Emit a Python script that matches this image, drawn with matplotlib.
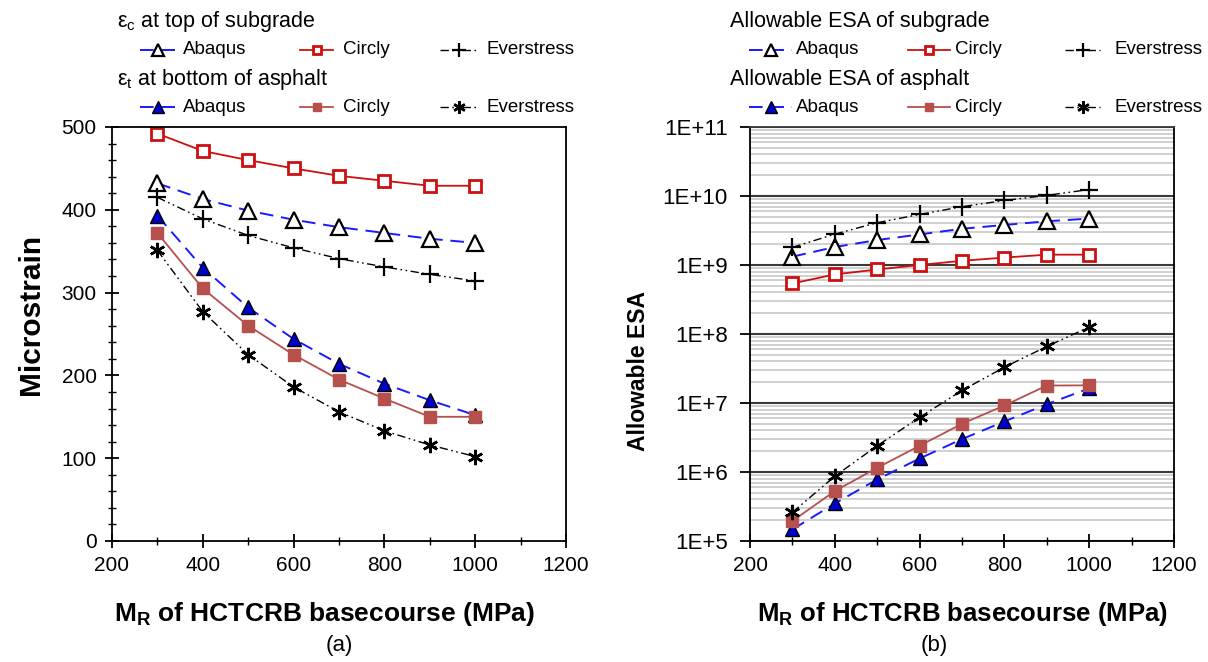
import numpy as np
import matplotlib
matplotlib.use("Agg")
import matplotlib.pyplot as plt
from matplotlib.lines import Line2D
from matplotlib.ticker import MultipleLocator, LogLocator, FuncFormatter, NullFormatter

plt.rcParams['font.family'] = ['Liberation Sans', 'DejaVu Sans']
plt.rcParams['mathtext.fontset'] = 'custom'
plt.rcParams['mathtext.rm'] = 'Liberation Sans'
plt.rcParams['mathtext.bf'] = 'Liberation Sans:bold'
plt.rcParams['mathtext.it'] = 'Liberation Sans:italic'

# data
mr = [300, 400, 500, 600, 700, 800, 900, 1000]

# (a) microstrain
sub_abaqus = [432, 413, 399, 388, 379, 372, 365, 360]
sub_circly = [492, 471, 460, 450, 441, 435, 429, 429]
sub_ever = [415, 389, 369, 354, 341, 331, 322, 314]
asp_abaqus = [393, 330, 282, 244, 214, 190, 170, 152]
asp_circly = [372, 305, 260, 225, 195, 172, 150, 150]
asp_ever = [351, 277, 225, 186, 156, 133, 116, 102]

# (b) allowable ESA
esa_sub_abaqus = [1.32e9, 1.82e9, 2.3e9, 2.77e9, 3.35e9, 3.8e9, 4.3e9, 4.7e9]
esa_sub_circly = [5.4e8, 7.3e8, 8.6e8, 1.0e9, 1.15e9, 1.28e9, 1.41e9, 1.41e9]
esa_sub_ever = [1.8e9, 2.8e9, 4.1e9, 5.4e9, 7.0e9, 8.6e9, 1.02e10, 1.24e10]
esa_asp_abaqus = [1.47e5, 3.5e5, 7.8e5, 1.57e6, 3.0e6, 5.4e6, 9.6e6, 1.63e7]
esa_asp_circly = [1.95e5, 5.3e5, 1.15e6, 2.4e6, 5.0e6, 9.2e6, 1.79e7, 1.8e7]
esa_asp_ever = [2.6e5, 8.7e5, 2.4e6, 6.2e6, 1.52e7, 3.3e7, 6.6e7, 1.26e8]

labels = ['Abaqus', 'Circly', 'Everstress']

W, H = 1208, 662
dashed = (0, (7, 4))
dashdotdot = (0, (6, 2.5, 1.2, 2.5, 1.2, 2.5))
st_sub = [
    dict(color='#1a1aff', ls=dashed, lw=1.4, marker='^', ms=11, mfc='white', mec='black', mew=1.6),
    dict(color='#cc1010', ls='-', lw=1.3, marker='s', ms=8, mfc='white', mec='#cc1010', mew=2.0),
    dict(color='black', ls=dashdotdot, lw=1.0, marker='+', ms=13, mfc='none', mec='black', mew=1.6),
]
st_asp = [
    dict(color='#1a1aff', ls=dashed, lw=1.4, marker='^', ms=10, mfc='#0000cc', mec='black', mew=1.0),
    dict(color='#b5504d', ls='-', lw=1.3, marker='s', ms=8, mfc='#b5504d', mec='#b5504d', mew=1.0),
    dict(color='black', ls=dashdotdot, lw=1.0, marker=(6, 2, 0), ms=11, mfc='none', mec='black', mew=1.8),
]

fig = plt.figure(figsize=(12.08, 6.62), dpi=100)
ax1 = fig.add_axes([0.0927, 0.1828, 0.3758, 0.6254])
ax2 = fig.add_axes([0.6209, 0.1828, 0.3510, 0.6254])

xlabel = r'M$_\mathbf{R}$ of HCTCRB basecourse (MPa)'


def legend_block(title, tx, ty, styles, hx, lx, y):
    # legend drawn by hand, positions in pixels from top-left
    fig.text(tx / W, 1 - ty / H, title, fontsize=15.5, va='center', ha='left')
    for st, (x0, x1), xl, lab in zip(styles, hx, lx, labels):
        s = dict(st)
        s['ms'] = s['ms'] * 0.8
        xm = (x0 + x1) / 2
        ln = Line2D([x0 / W, xm / W, x1 / W], [1 - y / H] * 3, transform=fig.transFigure,
                    markevery=[1], **s)
        fig.add_artist(ln)
        fig.text(xl / W, 1 - y / H, lab, fontsize=13.5, va='center', ha='left')


# panel (a)
for ys, st in zip([sub_abaqus, sub_circly, sub_ever], st_sub):
    ax1.plot(mr, ys, **st)
for ys, st in zip([asp_abaqus, asp_circly, asp_ever], st_asp):
    ax1.plot(mr, ys, **st)

ax1.set_xlim(200, 1200)
ax1.set_ylim(0, 500)
ax1.xaxis.set_major_locator(MultipleLocator(200))
ax1.xaxis.set_minor_locator(MultipleLocator(100))
ax1.yaxis.set_major_locator(MultipleLocator(100))
ax1.yaxis.set_minor_locator(MultipleLocator(20))
ax1.tick_params(which='major', direction='inout', length=10, width=1.3, labelsize=15, pad=6)
ax1.tick_params(which='minor', direction='inout', length=6, width=1.0)
ax1.set_ylabel('Microstrain', fontsize=21.5, fontweight='bold', labelpad=12)
ax1.yaxis.label.set_y(0.546)
ax1.set_xlabel(xlabel, fontsize=19, fontweight='bold', labelpad=18)
ax1.xaxis.label.set_x(0.467)
for sp in ax1.spines.values():
    sp.set_linewidth(1.3)

lx_a = [183, 343, 486]
hx_a = [(140, 176), (300, 333), (440, 478)]
legend_block(r'ε$_\mathrm{c}$ at top of subgrade', 117, 22, st_sub, hx_a, lx_a, 50)
legend_block(r'ε$_\mathrm{t}$ at bottom of asphalt', 117, 79, st_asp, hx_a, lx_a, 107)
fig.text(339 / W, 1 - 645 / H, '(a)', ha='center', va='center', fontsize=16)

# panel (b)
for ys, st in zip([esa_sub_abaqus, esa_sub_circly, esa_sub_ever], st_sub):
    ax2.plot(mr, ys, zorder=3, **st)
for ys, st in zip([esa_asp_abaqus, esa_asp_circly, esa_asp_ever], st_asp):
    ax2.plot(mr, ys, zorder=3, **st)

ax2.set_yscale('log')
ax2.set_xlim(200, 1200)
ax2.set_ylim(1e5, 1e11)
ax2.xaxis.set_major_locator(MultipleLocator(200))
ax2.xaxis.set_minor_locator(MultipleLocator(100))
ax2.yaxis.set_major_locator(LogLocator(base=10, numticks=10))
ax2.yaxis.set_minor_locator(LogLocator(base=10, subs=np.arange(2, 10), numticks=20))
ax2.yaxis.set_major_formatter(FuncFormatter(lambda v, p: '1E+%d' % round(np.log10(v))))
ax2.yaxis.set_minor_formatter(NullFormatter())
ax2.grid(True, which='major', axis='y', color='#3a3a3a', lw=1.5, zorder=1)
ax2.grid(True, which='minor', axis='y', color='#c8c8c8', lw=1.2, zorder=1)
ax2.set_axisbelow(True)
ax2.tick_params(axis='x', which='major', direction='inout', length=10, width=1.3, labelsize=15, pad=6)
ax2.tick_params(axis='x', which='minor', direction='inout', length=6, width=1.0)
ax2.tick_params(axis='y', which='major', direction='out', length=7, width=1.3, labelsize=16, pad=9)
ax2.tick_params(axis='y', which='minor', length=0)
ax2.set_ylabel('Allowable ESA', fontsize=16.5, fontweight='bold', labelpad=9)
ax2.yaxis.label.set_y(0.41)
ax2.set_xlabel(xlabel, fontsize=18.5, fontweight='bold', labelpad=18)
for sp in ax2.spines.values():
    sp.set_linewidth(1.3)
ax2.spines['top'].set_color('#3a3a3a')

lx_b = [796, 955, 1114]
hx_b = [(749, 792), (908, 950), (1065, 1100)]
legend_block('Allowable ESA of subgrade', 730, 22, st_sub, hx_b, lx_b, 50)
legend_block('Allowable ESA of asphalt', 730, 80, st_asp, hx_b, lx_b, 107)
fig.text(934 / W, 1 - 645 / H, '(b)', ha='center', va='center', fontsize=16)

fig.savefig('out.png', dpi=100)
